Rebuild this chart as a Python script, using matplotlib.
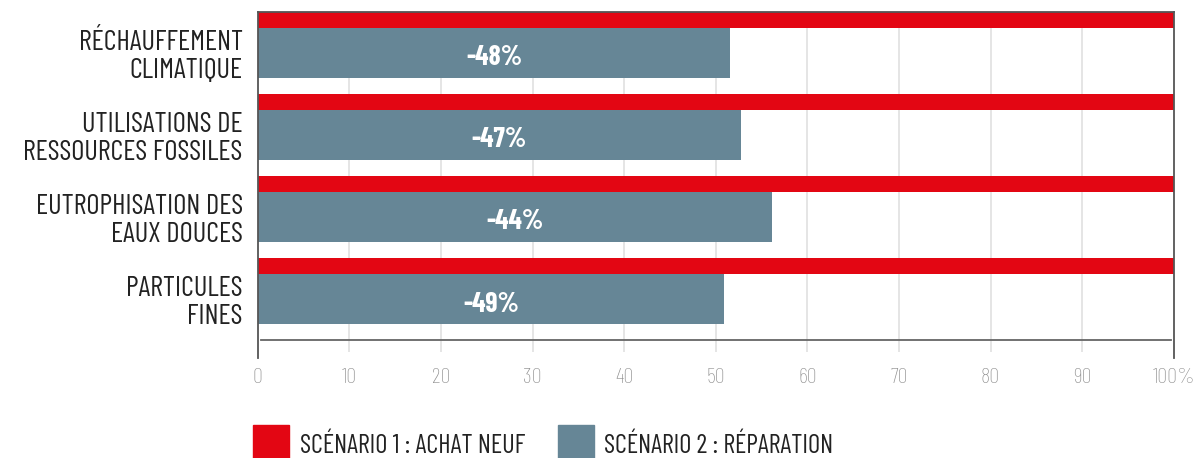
import numpy as np
import matplotlib
matplotlib.use("Agg")
import matplotlib.pyplot as plt
from matplotlib.patches import Rectangle

# data
categories = ["RÉCHAUFFEMENT\nCLIMATIQUE",
              "UTILISATIONS DE\nRESSOURCES FOSSILES",
              "EUTROPHISATION DES\nEAUX DOUCES",
              "PARTICULES\nFINES"]
neuf = [100, 100, 100, 100]
reparation = [51.6, 52.7, 56.1, 50.9]
deltas = ["-48%", "-47%", "-44%", "-49%"]
xticks = [0, 10, 20, 30, 40, 50, 60, 70, 80, 90, 100]
xticklabels = ["0", "10", "20", "30", "40", "50", "60", "70", "80", "90", "100%"]
legend_labels = ["SCÉNARIO 1 : ACHAT NEUF", "SCÉNARIO 2 : RÉPARATION"]

RED = "#e30613"
GREY = "#668696"
FONT = ['Barlow Condensed', 'DejaVu Sans']

plt.rcParams['font.family'] = FONT

fig = plt.figure(figsize=(11.94, 4.58), dpi=100)
ax = fig.add_axes([0.216, 0.218, 0.767, 0.756])

y = np.arange(len(categories))
ax.barh(y - 0.402, neuf, height=0.195, color=RED, zorder=2)
ax.barh(y, reparation, height=0.61, color=GREY, zorder=2)

for yi, v, d in zip(y, reparation, deltas):
    ax.text(v / 2, yi + 0.06, d, ha="center", va="center", color="white",
            fontsize=20, fontweight="bold", zorder=3)

# vertical grid lines
ax.vlines(xticks[1:-1], -0.5, 3.65, color="#e0e0e0", lw=1.2, zorder=1)
ax.axhline(3.5, xmin=0.003, xmax=0.997, color="#666666", lw=1.3, zorder=2)

ax.set_xlim(0, 100)
ax.set_ylim(3.72, -0.5)
ax.set_yticks(y)
ax.set_yticklabels(categories, fontsize=20.5, color="#222222", linespacing=1.1)
ax.set_xticks(xticks)
ax.set_xticklabels(xticklabels, fontsize=16, color="#8f8f8f", fontweight="light")
ax.tick_params(axis="x", length=0, pad=7)
ax.tick_params(axis="y", length=0, pad=11)

for s in ["left", "right", "top"]:
    ax.spines[s].set_color("#555555")
    ax.spines[s].set_linewidth(1.3)
ax.spines["bottom"].set_visible(False)

# legend
W, H = 1194, 458
fig.patches.append(Rectangle((253 / W, 0), 36 / W, 33 / H, transform=fig.transFigure,
                             color=RED, figure=fig))
fig.patches.append(Rectangle((558 / W, 0), 36 / W, 33 / H, transform=fig.transFigure,
                             color=GREY, figure=fig))
fig.text(300 / W, 1 - 446 / H, legend_labels[0], fontsize=19, color="#222222", va="center")
fig.text(604 / W, 1 - 446 / H, legend_labels[1], fontsize=19, color="#222222", va="center")

fig.savefig("out.png", dpi=100)
